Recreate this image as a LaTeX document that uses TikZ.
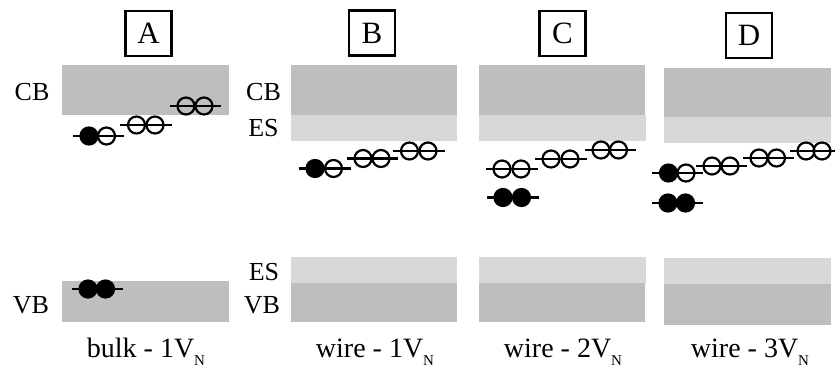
\documentclass[tikz,border=0pt]{standalone}
\usepackage{fontspec}
\setmainfont{Liberation Serif}
\definecolor{bandgray}{RGB}{190,190,190}
\definecolor{esgray}{RGB}{216,216,216}
\newcommand\epair[6]{% name, left style, right style, x left, x right, y
  \node[#2] (#1l) at (#4,#6) {};
  \node[#3] (#1r) at (#5,#6) {};
  \draw[lvl] ([xshift=-6.5pt]#1l.west) -- ([xshift=7.5pt]#1r.east);}
\newcommand\botlbl[3]{% name, x, text
  \node[botl, anchor=base] (#1) at (#2,357) {#3};}
\newcommand\subN{\raisebox{-8pt}{\fontsize{15}{15}\selectfont N}}
\begin{document}
\begin{tikzpicture}[x=1pt,y=-1pt,
  band/.style={fill=bandgray},
  esband/.style={fill=esgray},
  lbl/.style={font=\fontsize{26}{26}\selectfont, inner sep=0pt},
  botl/.style={font=\fontsize{28}{28}\selectfont, inner sep=0pt},
  panel/.style={draw, line width=2.5pt, minimum width=46pt, minimum height=45pt, font=\fontsize{31}{31}\selectfont, inner sep=0pt},
  openc/.style={circle, draw, line width=2.2pt, minimum size=17pt, inner sep=0pt},
  fullc/.style={circle, draw, fill=black, line width=2.2pt, minimum size=17pt, inner sep=0pt},
  lvl/.style={line width=2.2pt}]
\useasboundingbox (0,0) rectangle (835,369);

% ---- bands ----
% A
\fill[band] (62,65) rectangle (229,115);
\fill[band] (62,281) rectangle (229,322);
% B
\fill[band] (291,65) rectangle (457,115);
\fill[esband] (291,115) rectangle (457,141);
\fill[esband] (291,257) rectangle (457,283);
\fill[band] (291,283) rectangle (457,322);
% C
\fill[band] (479,65) rectangle (645,115);
\fill[esband] (479,115) rectangle (646,141);
\fill[esband] (479,257) rectangle (646,283);
\fill[band] (479,283) rectangle (645,322);
% D
\fill[band] (664,68) rectangle (831,117);
\fill[esband] (664,117) rectangle (831,143);
\fill[esband] (664,258) rectangle (831,284);
\fill[band] (664,284) rectangle (831,325);

% ---- panel titles ----
\node[panel] (tA) at (148.5,33.5) {A};
\node[panel] (tB) at (372,33) {B};
\node[panel] (tC) at (562.5,33.5) {C};
\node[panel] (tD) at (749,35.5) {D};

% ---- band labels ----
\node[lbl] (cbA) at (32,92) {CB};
\node[lbl] (vbA) at (31,305) {VB};
\node[lbl] (cbB) at (263.5,92) {CB};
\node[lbl] (esB) at (263.5,128) {ES};
\node[lbl] (es2B) at (264,272) {ES};
\node[lbl] (vbB) at (262,305) {VB};

% ---- electrons ----
% A
\epair{a1}{fullc}{openc}{89}{106.5}{136}
\epair{a2}{openc}{openc}{136.5}{155}{125}
\epair{a3}{openc}{openc}{186}{204}{106}
\epair{a4}{fullc}{fullc}{88}{105.5}{289}
% B
\epair{b1}{fullc}{openc}{315}{333.5}{168.5}
\epair{b2}{openc}{openc}{363}{381}{158.5}
\epair{b3}{openc}{openc}{409.5}{428}{151}
% C
\epair{c1}{openc}{openc}{502}{521}{169}
\epair{c2}{fullc}{fullc}{503}{521.5}{197.5}
\epair{c3}{openc}{openc}{551}{570}{159}
\epair{c4}{openc}{openc}{601}{618.5}{150}
% D
\epair{d1}{fullc}{openc}{668.5}{686}{173}
\epair{d2}{openc}{openc}{712}{730}{166}
\epair{d3}{openc}{openc}{759}{776.5}{158}
\epair{d4}{openc}{openc}{806}{822}{151}
\epair{d5}{fullc}{fullc}{668}{685.5}{203}

% ---- bottom labels ----
\botlbl{bA}{146}{bulk - 1V\subN}
\botlbl{bB}{375}{wire - 1V\subN}
\botlbl{bC}{563}{wire - 2V\subN}
\botlbl{bD}{750}{wire - 3V\subN}
\end{tikzpicture}
\end{document}
